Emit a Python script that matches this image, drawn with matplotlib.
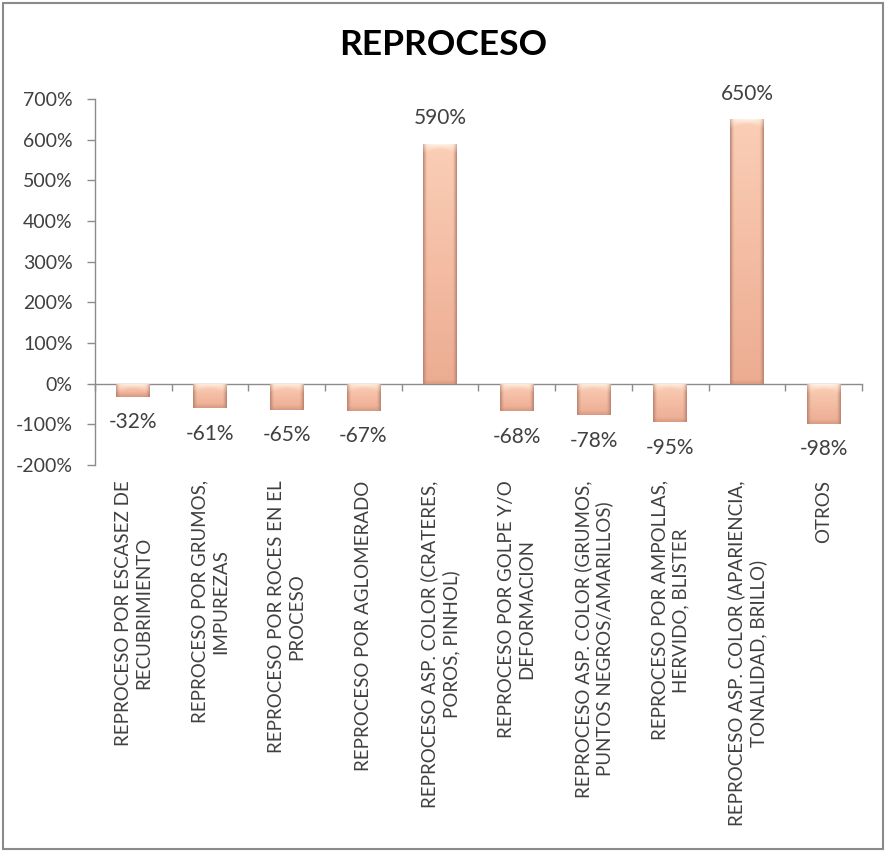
import numpy as np
import matplotlib
matplotlib.use("Agg")
import matplotlib.pyplot as plt
from matplotlib.patches import Rectangle
from matplotlib.ticker import FuncFormatter

plt.rcParams['font.family'] = ['Lato', 'DejaVu Sans']

categories = [
    "REPROCESO POR ESCASEZ DE\nRECUBRIMIENTO",
    "REPROCESO POR GRUMOS,\nIMPUREZAS",
    "REPROCESO POR ROCES EN EL\nPROCESO",
    "REPROCESO POR AGLOMERADO",
    "REPROCESO ASP. COLOR (CRATERES,\nPOROS, PINHOL)",
    "REPROCESO POR GOLPE Y/O\nDEFORMACION",
    "REPROCESO ASP. COLOR (GRUMOS,\nPUNTOS NEGROS/AMARILLOS)",
    "REPROCESO POR AMPOLLAS,\nHERVIDO, BLISTER",
    "REPROCESO ASP. COLOR (APARIENCIA,\nTONALIDAD, BRILLO)",
    "OTROS",
]
values = [-0.32, -0.61, -0.65, -0.67, 5.90, -0.68, -0.78, -0.95, 6.50, -0.98]
y_ticks = [-2, -1, 0, 1, 2, 3, 4, 5, 6, 7]
title = "REPROCESO"

TXT = '#404040'
AX = '#8c8c8c'

fig = plt.figure(figsize=(8.86, 8.52), dpi=100)
ax = fig.add_axes([95/886, 1-465/852, (862-95)/886, (465-99)/852])

x = np.arange(len(categories))
bars = ax.bar(x, values, width=0.44, color='#eeb396', edgecolor='none', zorder=2)

ymin, ymax = y_ticks[0], y_ticks[-1]
ax.set_ylim(ymin, ymax)
ax.set_xlim(-0.5, len(categories) - 0.5)

# gradient fill for each bar (clipped to the bar patch)
top_c = np.array([251, 206, 182]) / 255.0
bot_c = np.array([236, 172, 146]) / 255.0
edge_c = np.array([186, 132, 112]) / 255.0
bevel_c = np.array([255, 246, 234]) / 255.0
px_per_unit = (465 - 99) / (ymax - ymin)
for b in bars:
    x0, y0 = b.get_x(), b.get_y()
    w, h = b.get_width(), b.get_height()
    ylo, yhi = min(y0, y0 + h), max(y0, y0 + h)
    hpx = max(int((yhi - ylo) * px_per_unit), 4)
    wpx = 60
    yy = np.linspace(1, 0, hpx)[:, None]  # 1 at top row
    xx = np.linspace(-1, 1, wpx)[None, :]
    base = bot_c + (top_c - bot_c) * yy[..., None]
    base = np.broadcast_to(base, (hpx, wpx, 3)).copy()
    edge = np.clip((np.abs(xx) - 0.74) / 0.26, 0, 1) ** 1.5
    img = base * (1 - edge[..., None]) + edge_c * edge[..., None]
    # top bevel
    dist_top = np.arange(hpx)[:, None]
    bevel_depth = 10 - 5 * (1 - xx ** 2)
    bev = np.clip(1 - dist_top / np.maximum(bevel_depth, 1), 0, 1) * (1 - 0.6 * np.abs(xx) ** 3)
    bev = bev * 0.9
    img = img * (1 - bev[..., None]) + bevel_c * bev[..., None]
    # bottom shade
    dist_bot = (hpx - 1 - np.arange(hpx))[:, None]
    sh = np.clip(1 - dist_bot / 4.0, 0, 1) * 0.4
    img = img * (1 - sh[..., None]) + edge_c * sh[..., None]
    im = ax.imshow(np.clip(img, 0, 1), extent=(x0, x0 + w, ylo, yhi), aspect='auto',
                   origin='upper', zorder=3, interpolation='bilinear')
    im.set_clip_path(b)

ax.set_xlim(-0.5, len(categories) - 0.5)
ax.set_ylim(ymin, ymax)

# data labels
for b, v in zip(bars, values):
    xc = b.get_x() + b.get_width() / 2
    if v >= 0:
        ax.annotate(f"{v*100:.0f}%", (xc, v), xytext=(0, 11), textcoords='offset points',
                    ha='center', va='bottom', fontsize=15, color=TXT, zorder=5)
    else:
        ax.annotate(f"{v*100:.0f}%", (xc, v), xytext=(0, -11), textcoords='offset points',
                    ha='center', va='top', fontsize=15, color=TXT, zorder=5)

# y axis
ax.set_yticks(y_ticks)
ax.yaxis.set_major_formatter(FuncFormatter(lambda v, p: f"{v*100:.0f}%"))
ax.tick_params(axis='y', direction='out', length=6, width=1, color=AX, labelsize=14,
               labelcolor=TXT, pad=10)
for s in ['top', 'right', 'bottom']:
    ax.spines[s].set_visible(False)
ax.spines['left'].set_color(AX)
ax.spines['left'].set_linewidth(1)

# category labels at bottom
ax.set_xticks(x)
ax.set_xticklabels(categories, rotation=90, ha='center', va='top', multialignment='center',
                   fontsize=13.5, color=TXT, linespacing=1.25)
ax.tick_params(axis='x', length=0, pad=11)

# zero line with category boundary ticks
sec = ax.secondary_xaxis((0 - ymin) / (ymax - ymin))
sec.set_xticks(np.arange(-0.5, len(categories)), labels=[])
sec.tick_params(axis='x', direction='out', length=5, width=1, color=AX)
sec.spines['bottom'].set_color(AX)
sec.spines['bottom'].set_linewidth(1)

fig.text(0.5, 1 - 45/852, title, ha='center', va='center', fontsize=25.5,
         fontweight='bold', color='#000000')

fig.patches.append(Rectangle((3/886, 3/852), 880/886, 846/852, transform=fig.transFigure,
                             fill=False, edgecolor='#8a8a8a', linewidth=1.5))

fig.savefig('out.png', dpi=100, facecolor='white')
